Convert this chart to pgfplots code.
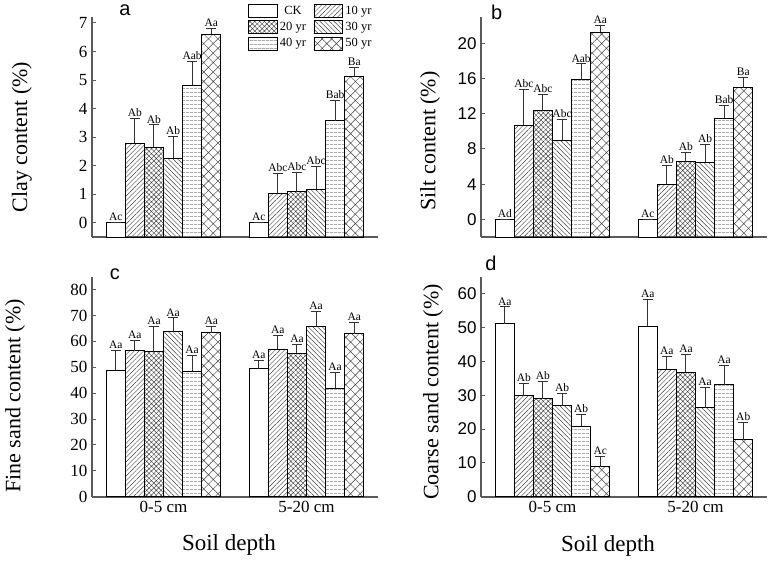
\documentclass[border=0pt]{standalone}
\usepackage{pgfplots}
\pgfplotsset{compat=1.18}
\usepackage{pgfplotstable}
\usetikzlibrary{patterns.meta}
\usepackage{fontspec}
\setmainfont{Liberation Serif}
\newfontfamily\arialf{Liberation Sans}
\definecolor{spine}{HTML}{5A5A5A}
\definecolor{hatch}{HTML}{404040}

\pgfplotstableread{
g y0 e0 l0 y1 e1 l1 y2 e2 l2 y3 e3 l3 y4 e4 l4 y5 e5 l5
1 0 0 Ac 2.78 0.88 Ab 2.64 0.79 Ab 2.26 0.76 Ab 4.81 0.85 Aab 6.60 0.20 Aa
2 0 0 Ac 1.04 0.68 Abc 1.09 0.66 Abc 1.17 0.80 Abc 3.57 0.71 Bab 5.12 0.33 Ba
}\clay
\pgfplotstableread{
g y0 e0 l0 y1 e1 l1 y2 e2 l2 y3 e3 l3 y4 e4 l4 y5 e5 l5
1 0 0 Ad 10.68 4.07 Abc 12.40 1.78 Abc 9.01 2.36 Abc 15.86 1.82 Aab 21.25 0.76 Aa
2 0 0 Ac 3.99 2.13 Ab 6.54 1.03 Ab 6.50 2.00 Ab 11.52 1.45 Bab 14.94 1.22 Ba
}\silt
\pgfplotstableread{
g y0 e0 l0 y1 e1 l1 y2 e2 l2 y3 e3 l3 y4 e4 l4 y5 e5 l5
1 48.8 7.7 Aa 56.4 3.9 Aa 56.1 9.8 Aa 63.7 5.4 Aa 48.5 6.1 Aa 63.3 2.5 Aa
2 49.5 3.1 Aa 57.0 5.2 Aa 55.5 3.3 Aa 65.9 5.7 Aa 41.9 6.1 Aa 63.0 4.4 Aa
}\fine
\pgfplotstableread{
g y0 e0 l0 y1 e1 l1 y2 e2 l2 y3 e3 l3 y4 e4 l4 y5 e5 l5
1 51.1 5.0 Aa 29.9 3.5 Ab 28.9 5.2 Ab 26.9 3.6 Ab 20.9 3.4 Ab 8.9 3.0 Ac
2 50.4 7.8 Aa 37.7 3.8 Aa 36.7 5.4 Aa 26.3 5.9 Aa 33.1 5.7 Aa 16.8 5.2 Ab
}\coarse

\pgfplotsset{
  panel/.style={scale only axis, width=286pt, height=220pt, xmin=0.5, xmax=2.5,
    axis x line*=bottom, axis y line*=left,
    axis line style={draw=spine, line width=1.6pt, -},
    every outer x axis line/.append style={-},
    every outer y axis line/.append style={-},
    tick align=inside, major tick length=3.5pt,
    y tick style={draw=spine, line width=1pt},
    x tick style={draw=none},
    xtick=\empty,
    /pgf/number format/assume math mode=true,
    clip=false,
  },
  serifticks/.style={yticklabel style={font=\fontsize{17}{17}\selectfont, xshift=-1pt}},
  sansticks/.style={yticklabel style={font=\arialf\fontsize{17}{17}\selectfont, xshift=-1pt}},
  s0/.style={fill=white},
  s1/.style={pattern={Lines[angle=45,distance=3.3pt,line width=0.45pt]}, pattern color=hatch},
  s2/.style={pattern={Hatch[angle=45,distance=3.4pt,line width=0.45pt]}, pattern color=hatch},
  s3/.style={pattern={Lines[angle=-45,distance=3.3pt,line width=0.45pt]}, pattern color=hatch},
  s4/.style={pattern={Lines[angle=0,distance=4pt,line width=0.6pt]}, pattern color=gray},
  s5/.style={pattern={Hatch[angle=45,distance=6.7pt,line width=0.45pt]}, pattern color=hatch},
  mybar/.style={ybar, bar width=0.1335, bar shift=0pt, draw=black, line width=0.9pt,
    /pgfplots/error bars/y dir=plus, /pgfplots/error bars/y explicit,
    /pgfplots/error bars/error bar style={line width=1pt, draw=black!80, solid},
    /pgfplots/error bars/error mark options={rotate=90, mark size=5pt, line width=1pt, draw=black!80}},
  lab/.style={draw=none, mark=none, forget plot, nodes near coords, point meta=explicit symbolic,
    every node near coord/.style={font=\fontsize{11.5}{11.5}\selectfont, anchor=south, inner sep=1.5pt, text=black}},
}

% #1 table, #2 offset so that bars rise from the bottom of the axis
\newcommand\panelbars[2]{%
  \addplot[mybar,s0] table[x expr=\thisrow{g}-0.33375, y expr=\thisrow{y0}+#2, y error=e0]{#1};
  \addplot[mybar,s1] table[x expr=\thisrow{g}-0.20025, y expr=\thisrow{y1}+#2, y error=e1]{#1};
  \addplot[mybar,s2] table[x expr=\thisrow{g}-0.06675, y expr=\thisrow{y2}+#2, y error=e2]{#1};
  \addplot[mybar,s3] table[x expr=\thisrow{g}+0.06675, y expr=\thisrow{y3}+#2, y error=e3]{#1};
  \addplot[mybar,s4] table[x expr=\thisrow{g}+0.20025, y expr=\thisrow{y4}+#2, y error=e4]{#1};
  \addplot[mybar,s5] table[x expr=\thisrow{g}+0.33375, y expr=\thisrow{y5}+#2, y error=e5]{#1};
  \addplot[lab] table[x expr=\thisrow{g}-0.33375, y expr=\thisrow{y0}+\thisrow{e0}+#2, meta=l0]{#1};
  \addplot[lab] table[x expr=\thisrow{g}-0.20025, y expr=\thisrow{y1}+\thisrow{e1}+#2, meta=l1]{#1};
  \addplot[lab] table[x expr=\thisrow{g}-0.06675, y expr=\thisrow{y2}+\thisrow{e2}+#2, meta=l2]{#1};
  \addplot[lab] table[x expr=\thisrow{g}+0.06675, y expr=\thisrow{y3}+\thisrow{e3}+#2, meta=l3]{#1};
  \addplot[lab] table[x expr=\thisrow{g}+0.20025, y expr=\thisrow{y4}+\thisrow{e4}+#2, meta=l4]{#1};
  \addplot[lab] table[x expr=\thisrow{g}+0.33375, y expr=\thisrow{y5}+\thisrow{e5}+#2, meta=l5]{#1};
}

\begin{document}
\begin{tikzpicture}
\useasboundingbox (0pt,0pt) rectangle (770pt,560pt);

% ---- panel a (values shifted by 0.5 so bars start at the axis bottom, -0.5)
\begin{axis}[panel, serifticks, at={(92pt,323pt)}, anchor=south west,
  ymin=0, ymax=7.71, ytick={0.5,1.5,2.5,3.5,4.5,5.5,6.5,7.5}, yticklabels={0,1,2,3,4,5,6,7},
  ylabel={Clay content (\%)},
  every axis y label/.style={at={(axis description cs:-0.245,0.455)}, rotate=90, anchor=center, font=\fontsize{22}{22}\selectfont},
  legend columns=2,
  legend entries={CK,10 yr,20 yr,30 yr,40 yr,50 yr},
  legend image code/.code={\draw[#1, line width=0.9pt, draw=black] (0pt,-6.5pt) rectangle (28.5pt,6.5pt);},
  legend style={at={(axis description cs:0.545,1.062)}, anchor=north west, draw=none, fill=none,
    inner sep=0pt, row sep=1.5pt, font=\fontsize{12.5}{13}\selectfont,
    /tikz/every even column/.append style={column sep=5pt}, nodes={inner sep=2.5pt}},
]
\panelbars{\clay}{0.5}
\node[font=\arialf\fontsize{20}{20}\selectfont, anchor=base] at (axis description cs:0.115,1.009) {a};
\end{axis}

% ---- panel b (values shifted by 2 so bars start at the axis bottom, -2)
\begin{axis}[panel, sansticks, at={(481pt,323pt)}, anchor=south west,
  ymin=0, ymax=25, ytick={2,6,10,14,18,22}, yticklabels={0,4,8,12,16,20},
  ylabel={Silt content (\%)},
  every axis y label/.style={at={(axis description cs:-0.178,0.436)}, rotate=90, anchor=center, font=\fontsize{22}{22}\selectfont},
]
\panelbars{\silt}{2}
\node[font=\arialf\fontsize{20}{20}\selectfont, anchor=base] at (axis description cs:0.055,0.99) {b};
\end{axis}

% ---- panel c
\begin{axis}[panel, serifticks, at={(92pt,63.3pt)}, anchor=south west,
  ymin=0, ymax=85, ytick={0,10,...,80},
  xtick={1,2}, xticklabels={0-5 cm,5-20 cm},
  xticklabel style={font=\fontsize{17}{17}\selectfont, yshift=-1pt},
  ylabel={Fine sand content (\%)},
  every axis y label/.style={at={(axis description cs:-0.269,0.458)}, rotate=90, anchor=center, font=\fontsize{22}{22}\selectfont},
  xlabel={Soil depth},
  every axis x label/.style={at={(axis description cs:0.479,-0.22)}, anchor=center, font=\fontsize{23}{23}\selectfont},
]
\panelbars{\fine}{0}
\node[font=\arialf\fontsize{20}{20}\selectfont, anchor=base] at (axis description cs:0.080,0.988) {c};
\end{axis}

% ---- panel d
\begin{axis}[panel, sansticks, at={(481pt,63.3pt)}, anchor=south west,
  ymin=0, ymax=65, ytick={0,10,...,60},
  xtick={1,2}, xticklabels={0-5 cm,5-20 cm},
  xticklabel style={font=\fontsize{17}{17}\selectfont, yshift=-1pt},
  ylabel={Coarse sand content (\%)},
  every axis y label/.style={at={(axis description cs:-0.168,0.476)}, rotate=90, anchor=center, font=\fontsize{22}{22}\selectfont},
  xlabel={Soil depth},
  every axis x label/.style={at={(axis description cs:0.444,-0.224)}, anchor=center, font=\fontsize{23}{23}\selectfont},
]
\panelbars{\coarse}{0}
\node[font=\arialf\fontsize{20}{20}\selectfont, anchor=base] at (axis description cs:0.035,1.026) {d};
\end{axis}
\end{tikzpicture}
\end{document}
